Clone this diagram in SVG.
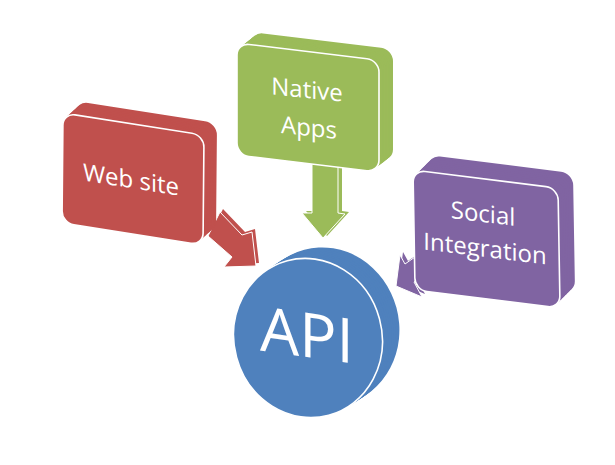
<svg xmlns="http://www.w3.org/2000/svg" xmlns:xlink="http://www.w3.org/1999/xlink" width="615" height="465" viewBox="0 0 615 465">
<style>
.red{fill:#C0504D}
.green{fill:#9BBB59}
.purple{fill:#8064A2}
.blue{fill:#4F81BD}
.face{stroke:#FFFFFF;stroke-width:1.6}
.lbl{fill:#FFFFFF;font-family:"Open Sans","Liberation Sans",sans-serif;font-size:24px;text-anchor:middle}
.big{font-size:62px}
</style>
<defs>
<rect id="rf" x="0" y="0" width="141" height="110" rx="12" transform="matrix(1,0.157,-0.009,1,63,113)"/>
<rect id="gf" x="0" y="0" width="142" height="112" rx="12" transform="matrix(1,0.121,0,1,237,43)"/>
<rect id="pf" x="0" y="0" width="145" height="120" rx="12" transform="matrix(1,0.125,0.017,1,413,170)"/>
<ellipse id="cf" cx="308" cy="338" rx="74" ry="80" transform="rotate(-15 308 338)"/>
<polygon id="ra" points="220,212 242,235 252,232 256,266 224,267 232,257 208,236"/>
<polygon id="ga" points="312,160 338,160 338,213 345,214 323,238 302,213 312,213"/>
<polygon id="pa" points="425,250 405,264 400,255 396,286 422,297 414,282 434,270"/>
</defs>
<g id="node-api" class="blue">
<use href="#cf" transform="translate(17,-11)"/>
<use href="#cf" transform="translate(15.1,-9.8)"/>
<use href="#cf" transform="translate(13.2,-8.6)"/>
<use href="#cf" transform="translate(11.3,-7.3)"/>
<use href="#cf" transform="translate(9.4,-6.1)"/>
<use href="#cf" transform="translate(7.6,-4.9)"/>
<use href="#cf" transform="translate(5.7,-3.7)"/>
<use href="#cf" transform="translate(3.8,-2.4)"/>
<use href="#cf" transform="translate(1.9,-1.2)"/>
<use href="#cf" class="face"/>
<text class="lbl big" x="0" y="0" transform="translate(307,357) skewY(8)">API</text>
</g>
<g id="connectors">
<g class="red">
<use href="#ra" transform="translate(3,-3)"/>
<use href="#ra" class="face" style="stroke-width:1"/>
</g>
<g class="green">
<use href="#ga" transform="translate(4,-2)"/>
<use href="#ga" class="face" style="stroke-width:1"/>
</g>
<g class="purple">
<use href="#pa" transform="translate(3,-3)"/>
<use href="#pa" class="face" style="stroke-width:1"/>
</g>
</g>
<g id="node-web" class="red">
<use href="#rf" transform="translate(13,-12)"/>
<use href="#rf" transform="translate(11.6,-10.7)"/>
<use href="#rf" transform="translate(10.1,-9.3)"/>
<use href="#rf" transform="translate(8.7,-8)"/>
<use href="#rf" transform="translate(7.2,-6.7)"/>
<use href="#rf" transform="translate(5.8,-5.3)"/>
<use href="#rf" transform="translate(4.3,-4)"/>
<use href="#rf" transform="translate(2.9,-2.7)"/>
<use href="#rf" transform="translate(1.4,-1.3)"/>
<use href="#rf" class="face"/>
<text class="lbl" x="0" y="0" transform="translate(131,188) skewY(9)">Web site</text>
</g>
<g id="node-native" class="green">
<use href="#gf" transform="translate(14,-11)"/>
<use href="#gf" transform="translate(12.4,-9.8)"/>
<use href="#gf" transform="translate(10.9,-8.6)"/>
<use href="#gf" transform="translate(9.3,-7.3)"/>
<use href="#gf" transform="translate(7.8,-6.1)"/>
<use href="#gf" transform="translate(6.2,-4.9)"/>
<use href="#gf" transform="translate(4.7,-3.7)"/>
<use href="#gf" transform="translate(3.1,-2.4)"/>
<use href="#gf" transform="translate(1.6,-1.2)"/>
<use href="#gf" class="face"/>
<text class="lbl" x="0" y="0" transform="translate(307,98) skewY(6)">Native</text>
<text class="lbl" x="0" y="0" transform="translate(309,136) skewY(6)">Apps</text>
</g>
<g id="node-social" class="purple">
<use href="#pf" transform="translate(15,-15)"/>
<use href="#pf" transform="translate(13.3,-13.3)"/>
<use href="#pf" transform="translate(11.7,-11.7)"/>
<use href="#pf" transform="translate(10,-10)"/>
<use href="#pf" transform="translate(8.3,-8.3)"/>
<use href="#pf" transform="translate(6.7,-6.7)"/>
<use href="#pf" transform="translate(5,-5)"/>
<use href="#pf" transform="translate(3.3,-3.3)"/>
<use href="#pf" transform="translate(1.7,-1.7)"/>
<use href="#pf" class="face"/>
<text class="lbl" x="0" y="0" transform="translate(483,222) skewY(7)">Social</text>
<text class="lbl" x="0" y="0" transform="translate(485,257) skewY(7)">Integration</text>
</g>
</svg>
